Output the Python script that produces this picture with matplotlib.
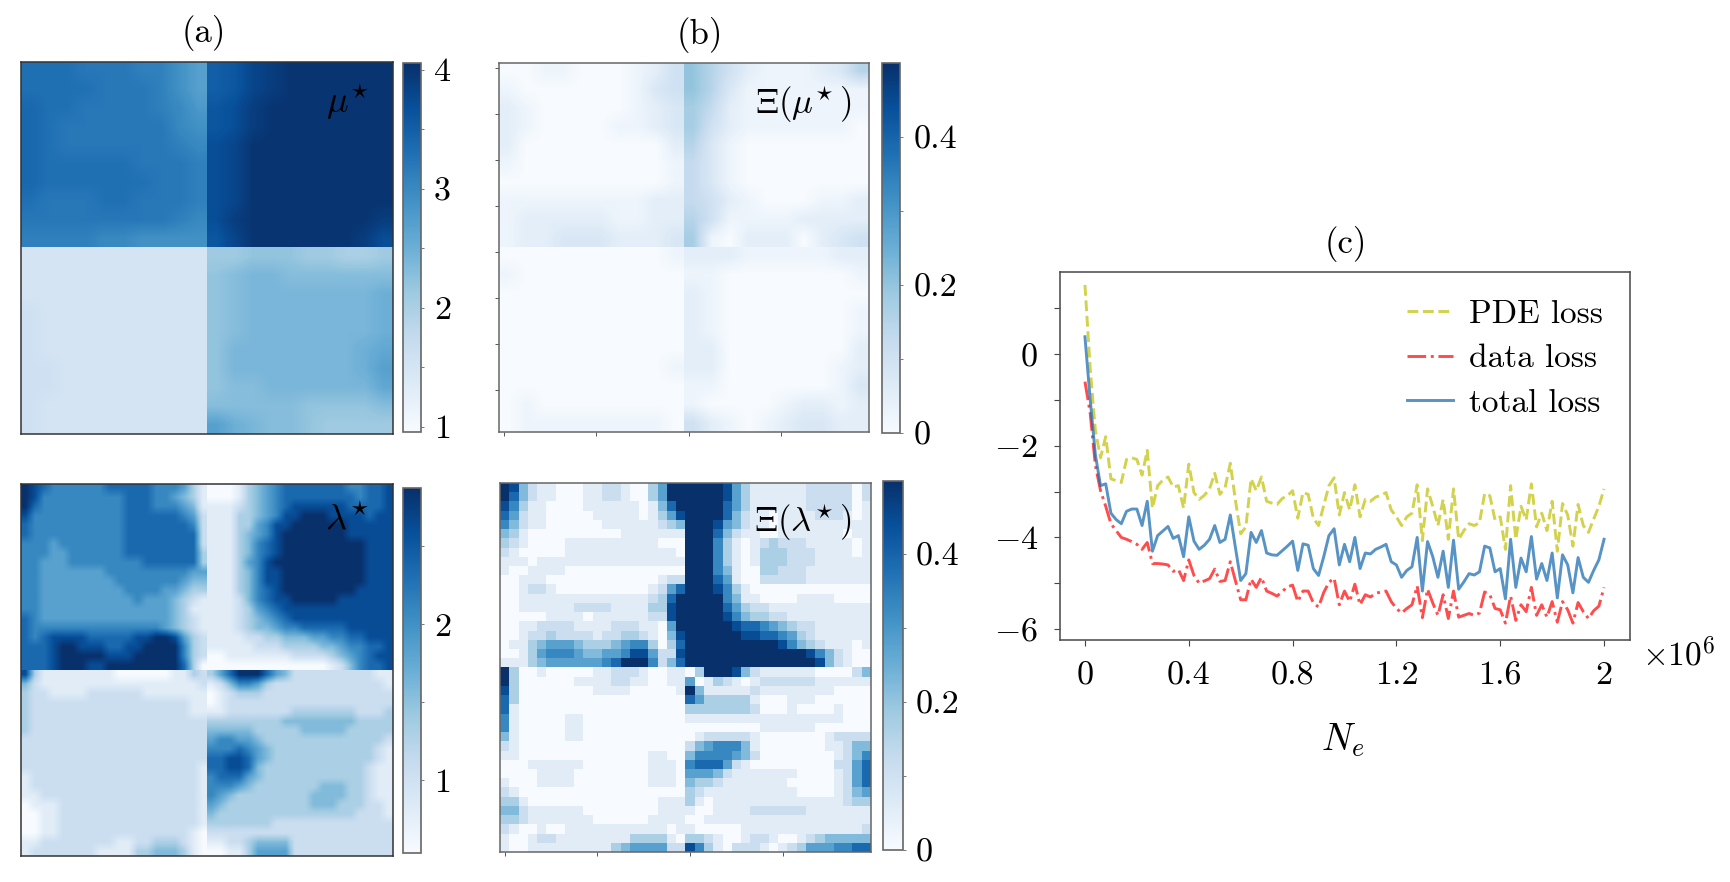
import numpy as np
import matplotlib
matplotlib.use('Agg')
import matplotlib.pyplot as plt

plt.rcParams['font.family'] = 'cmr10'
plt.rcParams['mathtext.fontset'] = 'cm'
plt.rcParams['axes.formatter.use_mathtext'] = True

W, H = 1730, 882

# values
mu_rows = [
    [3.3, 3.3, 3.3, 3.2, 3.2, 3.2, 3.1, 3.1, 2.9, 2.7, 3.5, 3.6, 3.8, 3.9, 4.0, 4.0, 4.0, 4.0, 4.0, 4.0],
    [3.3, 3.3, 3.3, 3.3, 3.2, 3.2, 3.2, 3.1, 2.9, 2.7, 3.5, 3.6, 3.8, 3.9, 4.0, 4.0, 4.0, 4.0, 4.0, 4.0],
    [3.4, 3.3, 3.3, 3.2, 3.2, 3.2, 3.2, 3.1, 3.0, 2.8, 3.6, 3.7, 3.9, 4.0, 4.0, 4.0, 4.0, 4.0, 4.0, 4.0],
    [3.4, 3.3, 3.2, 3.2, 3.2, 3.2, 3.2, 3.2, 3.0, 2.9, 3.6, 3.7, 3.9, 4.0, 4.0, 4.0, 4.0, 4.0, 4.0, 4.0],
    [3.4, 3.3, 3.2, 3.2, 3.2, 3.2, 3.2, 3.2, 3.1, 3.0, 3.7, 3.8, 4.0, 4.0, 4.0, 4.0, 4.0, 4.0, 4.0, 4.0],
    [3.4, 3.3, 3.3, 3.3, 3.3, 3.3, 3.2, 3.2, 3.2, 3.1, 3.7, 3.8, 4.0, 4.0, 4.0, 4.0, 4.0, 4.0, 4.0, 4.0],
    [3.4, 3.3, 3.3, 3.3, 3.3, 3.3, 3.3, 3.2, 3.2, 3.1, 3.7, 3.8, 4.0, 4.0, 4.0, 4.0, 4.0, 4.0, 4.0, 4.0],
    [3.3, 3.2, 3.2, 3.2, 3.3, 3.3, 3.2, 3.2, 3.2, 3.1, 3.7, 3.8, 4.0, 4.0, 4.0, 4.0, 4.0, 4.0, 4.0, 4.0],
    [3.2, 3.2, 3.2, 3.2, 3.2, 3.2, 3.2, 3.2, 3.1, 3.0, 3.7, 3.9, 4.0, 4.0, 4.0, 4.0, 4.0, 4.0, 4.0, 3.9],
    [3.1, 3.1, 3.1, 3.1, 3.0, 3.0, 2.9, 2.9, 2.9, 2.9, 3.6, 3.8, 4.0, 4.0, 4.0, 4.0, 4.0, 4.0, 3.9, 3.7],
    [1.5, 1.5, 1.5, 1.5, 1.5, 1.5, 1.5, 1.5, 1.5, 1.5, 2.1, 2.1, 2.2, 2.2, 2.2, 2.1, 2.1, 2.0, 2.0, 2.1],
    [1.5, 1.5, 1.5, 1.5, 1.5, 1.5, 1.5, 1.5, 1.5, 1.5, 2.2, 2.3, 2.4, 2.4, 2.3, 2.3, 2.3, 2.3, 2.3, 2.3],
    [1.5, 1.5, 1.5, 1.5, 1.5, 1.5, 1.5, 1.5, 1.5, 1.5, 2.2, 2.3, 2.4, 2.4, 2.4, 2.4, 2.4, 2.4, 2.4, 2.5],
    [1.6, 1.5, 1.5, 1.5, 1.5, 1.5, 1.5, 1.5, 1.5, 1.5, 2.2, 2.3, 2.4, 2.4, 2.4, 2.4, 2.4, 2.4, 2.4, 2.5],
    [1.6, 1.5, 1.5, 1.5, 1.5, 1.5, 1.5, 1.5, 1.5, 1.5, 2.2, 2.3, 2.4, 2.4, 2.4, 2.4, 2.4, 2.4, 2.4, 2.5],
    [1.6, 1.5, 1.5, 1.5, 1.5, 1.5, 1.5, 1.5, 1.5, 1.5, 2.2, 2.4, 2.4, 2.4, 2.4, 2.4, 2.4, 2.4, 2.5, 2.6],
    [1.6, 1.6, 1.5, 1.5, 1.5, 1.5, 1.5, 1.5, 1.5, 1.5, 2.2, 2.4, 2.4, 2.4, 2.4, 2.4, 2.4, 2.4, 2.5, 2.7],
    [1.6, 1.6, 1.5, 1.5, 1.5, 1.5, 1.5, 1.5, 1.5, 1.5, 2.2, 2.3, 2.3, 2.4, 2.4, 2.4, 2.4, 2.4, 2.4, 2.6],
    [1.6, 1.5, 1.5, 1.5, 1.5, 1.5, 1.5, 1.5, 1.5, 1.5, 2.3, 2.3, 2.3, 2.3, 2.3, 2.2, 2.2, 2.2, 2.2, 2.3],
    [1.6, 1.5, 1.5, 1.5, 1.5, 1.5, 1.5, 1.5, 1.5, 1.5, 2.7, 2.5, 2.4, 2.3, 2.3, 2.2, 2.1, 2.1, 2.1, 2.1],
]

# one digit per cell, 0 = low end of the colour bar, 9 = top end
xi_mu_rows = [
    "0011000124 8642111236",
    "1000000134 8631111111",
    "2100000123 7521111111",
    "2100001123 7421111110",
    "2000000002 6310000000",
    "1000000001 5310000000",
    "0000000001 5310000000",
    "1111111122 5421000112",
    "1222221122 6411112222",
    "1223332223 7102220234",
    "0000000001 2221111122",
    "1000000000 1100000001",
    "0000000000 2100000000",
    "0000000000 2100000001",
    "0000000000 2100000001",
    "0000000000 2200000002",
    "0000000001 2200000012",
    "0000000000 1100000013",
    "0100000000 1000012212",
    "0111111110 4210123322",
]

lam_rows = [
    "9876666667 7777666531 0001345677 7777766778",
    "9866666666 6777665431 0001345677 7777776778",
    "9766666666 6777666541 1112345678 8888877778",
    "8666666666 6777777652 1113345688 9998888788",
    "7666666666 6777777762 1113356889 9999988888",
    "7666666666 6777777772 1113456899 9999988888",
    "6665666666 6777777772 1113467899 9999999888",
    "6665566666 6777777773 1113467899 9999999888",
    "6655566666 6667777773 1113568999 9999999888",
    "6655555556 6666666655 1113468899 9999999888",
    "6655555555 6666666544 1113468899 9999999888",
    "6655555555 5666655433 1113467899 9999998888",
    "6655555555 5565554321 1112467889 9999888888",
    "6655555555 5555554311 1112356788 8888888888",
    "7655555555 5555554321 1112345678 8888888888",
    "7666666666 6666654321 1112344566 7777788888",
    "7678888777 7788998532 1111223344 4556677888",
    "7778998887 7889999632 1111122233 3344566778",
    "7778999998 8899999632 0011111112 2223456788",
    "7778999889 9999999730 0000000000 0001246778",
    "8311111111 0000001132 3579997542 2222222211",
    "4211111111 1111111112 1246653222 2222222221",
    "3221111222 2221111111 0123332222 2222222222",
    "3222222222 2222222211 0122222222 2222222222",
    "3222222222 2222222211 1122222223 3333332223",
    "3222222222 2222222222 3333333344 4444443333",
    "3222222222 2222222222 4444433333 4444433333",
    "2222222222 2222222222 5665543333 3333333332",
    "2222222222 2222222222 6667654333 3333333321",
    "2222222222 2222222222 7788754333 3333333321",
    "2222222222 2222222221 7788743333 3333333211",
    "1222222222 2222222221 6777543333 3333333211",
    "1222222222 2222222221 6665433333 3344433211",
    "1122222222 2222222221 6543333333 3444433211",
    "0111222222 2222222221 5433333333 3444333221",
    "0011222222 2222222221 4333333333 3333332221",
    "0011222222 2222222221 3333333222 2222222222",
    "0011222222 2222222210 2222222222 2222222222",
    "1122222222 1122333210 1122344442 2222222222",
    "1222222211 1133444310 0011355552 2222222222",
]

xi_lam_rows = [
    "9842110001 1221003599 9999853111 1112222202",
    "9742110001 1221003599 9999853111 1112222202",
    "8631100001 1111101479 9999753111 1112222201",
    "7521100000 1111101358 9999742110 1111222101",
    "6421100000 0111111234 9998542110 1111111111",
    "4310000000 0001111111 9997421100 1111111011",
    "3210000111 1111111000 9996310123 2221111101",
    "2100000111 1111111110 9996310133 3222111101",
    "1110111111 1111111111 9996310133 3222111111",
    "1001111000 0000000000 9996410033 2221111111",
    "0011100000 0000000122 9997510022 2221111111",
    "0012210000 0000001257 9998631000 0000000000",
    "0011111111 1111112379 9999641100 0011110000",
    "0011111122 2211113389 9999753221 1111111111",
    "0000011110 1111112289 9999864332 2111111111",
    "0011222211 1122211059 9999987765 4322111111",
    "0012232222 1223321048 9999998877 6532111111",
    "0113455543 3345663037 9999999999 8643211101",
    "0013566654 4556885228 9999999999 9998642100",
    "1113455555 5679996247 9999999999 9999842100",
    "9300100000 1122210011 0399984211 1111000024",
    "9300000011 1122110011 5013210122 2222111111",
    "8300000000 1111000001 9411111211 1111110000",
    "7300000000 0000000000 7533333100 0111000000",
    "7100000000 0000000000 3333333200 0100001000",
    "6100000110 0000000000 1111111111 1111111000",
    "6100000110 0000000000 0000000011 1111000000",
    "4100000110 0000000000 0122222100 0000012222",
    "2100000000 0000000000 2456664100 0000011244",
    "1100000000 0000001100 4666654200 0000001246",
    "0001111110 0000001110 6777521000 0000002257",
    "0000111100 0000001110 5554211111 1100001257",
    "1000111100 0000001110 4332111111 1000001257",
    "2100000000 0000000000 3211111111 1100001245",
    "3310000000 0000000111 3101111111 1111111233",
    "4421111110 0000000111 1001111222 2221111111",
    "3321111111 0000001111 0011111111 1111111111",
    "2100100111 1111111101 1000001111 1111111112",
    "1001221111 1111333310 3321001221 0012344444",
    "1001111111 1134555522 8631022210 1235556677",
]

# loss curves, one point every 0.02e6 samples
total_loss = [0.38, -0.98, -2.19, -2.87, -2.83, -3.47, -3.61, -3.70, -3.43, -3.38,
              -3.38, -3.74, -3.21, -4.30, -3.96, -3.86, -3.76, -4.02, -3.96, -4.42,
              -3.55, -4.08, -4.26, -4.17, -4.04, -3.74, -4.11, -4.04, -3.51, -4.23,
              -4.94, -4.79, -3.89, -4.11, -3.85, -4.34, -4.38, -4.39, -4.29, -4.19,
              -4.08, -4.72, -4.14, -4.17, -4.68, -4.83, -4.42, -3.96, -3.81, -4.60,
              -4.15, -4.53, -4.00, -4.68, -4.34, -4.36, -4.26, -4.21, -4.15, -4.53,
              -4.60, -4.87, -4.72, -4.64, -4.00, -5.17, -4.09, -4.42, -4.87, -4.30,
              -5.09, -4.06, -5.13, -4.97, -4.79, -4.82, -4.75, -4.19, -4.23, -4.75,
              -4.68, -5.34, -4.04, -5.09, -4.45, -4.75, -3.98, -4.91, -4.57, -4.94,
              -4.34, -5.32, -4.38, -4.60, -5.21, -4.44, -4.87, -4.98, -4.72, -4.49,
              -4.04]
pde_loss = [1.51, -0.30, -1.66, -2.26, -1.80, -2.72, -2.76, -2.80, -2.30, -2.26,
            -2.30, -2.64, -2.10, -3.36, -2.87, -2.75, -2.68, -2.90, -2.87, -3.36,
            -2.40, -3.02, -3.17, -3.08, -2.94, -2.60, -3.06, -2.91, -2.38, -3.20,
            -3.92, -3.77, -2.72, -2.98, -2.68, -3.21, -3.25, -3.28, -3.15, -3.09,
            -2.98, -3.58, -3.02, -3.06, -3.58, -3.74, -3.30, -2.87, -2.70, -3.51,
            -3.02, -3.40, -2.85, -3.55, -3.17, -3.21, -3.12, -3.08, -3.02, -3.40,
            -3.55, -3.74, -3.55, -3.47, -2.85, -4.07, -2.94, -3.32, -3.74, -3.17,
            -4.04, -2.94, -4.04, -3.85, -3.70, -3.74, -3.68, -3.04, -3.09, -3.62,
            -3.55, -4.26, -2.87, -4.04, -3.32, -3.62, -2.83, -3.77, -3.47, -3.85,
            -3.21, -4.30, -3.26, -3.51, -4.19, -3.28, -3.74, -3.89, -3.60, -3.32,
            -2.94]
data_loss = [-0.60, -1.28, -2.42, -2.98, -3.32, -3.70, -3.85, -4.00, -4.04, -4.09,
             -4.15, -4.26, -4.11, -4.57, -4.57, -4.58, -4.60, -4.74, -4.70, -4.94,
             -4.49, -4.83, -5.00, -4.95, -4.90, -4.69, -4.96, -4.94, -4.53, -4.95,
             -5.36, -5.36, -4.91, -5.09, -4.87, -5.17, -5.22, -5.28, -5.18, -5.08,
             -5.04, -5.40, -5.17, -5.17, -5.43, -5.52, -5.20, -4.98, -4.89, -5.47,
             -5.17, -5.40, -5.02, -5.47, -5.25, -5.30, -5.22, -5.19, -5.17, -5.40,
             -5.55, -5.65, -5.55, -5.47, -5.06, -5.75, -5.13, -5.43, -5.70, -5.25,
             -5.77, -5.17, -5.74, -5.70, -5.66, -5.70, -5.65, -5.19, -5.25, -5.55,
             -5.58, -5.87, -5.28, -5.81, -5.47, -5.62, -5.09, -5.70, -5.47, -5.74,
             -5.40, -5.85, -5.40, -5.58, -5.87, -5.42, -5.62, -5.77, -5.60, -5.50,
             -5.09]
samples = np.arange(101) * 0.02

lam_ticks = [1, 2]
mu_ticks = [1, 2, 3, 4]
xi_ticks = [0, 0.2, 0.4]
loss_ticks = [-6, -4, -2, 0]
loss_tick_labels = ['$-6$', '$-4$', '$-2$', '$0$']
sample_ticks = [0, 0.4, 0.8, 1.2, 1.6, 2]
sample_tick_labels = ['0', '0.4', '0.8', '1.2', '1.6', '2']


def digits(rows):
    return np.array([[int(ch) for ch in r.replace(' ', '')] for r in rows], dtype=float)


def px_axes(x0, y0, x1, y1):
    # pixel box of the target picture -> figure fractions
    return fig.add_axes([x0 / W, 1 - y1 / H, (x1 - x0) / W, (y1 - y0) / H])


def heat(box, cbox, grid, vmin, vmax, ticks, minor, labels, smooth=True, xt=False, yt=False):
    ax = px_axes(*box)
    kw = dict(cmap='Blues', vmin=vmin, vmax=vmax, aspect='auto')
    if smooth:
        # the jump between the quadrants stays sharp, so each one is drawn on its own
        n = grid.shape[0] // 2
        for i, (y0, y1) in enumerate([(-0.5, 19.5), (19.5, 39.5)]):
            for j, (x0, x1) in enumerate([(-0.5, 19.5), (19.5, 39.5)]):
                im = ax.imshow(grid[i * n:(i + 1) * n, j * n:(j + 1) * n], extent=(x0, x1, y1, y0),
                               interpolation='bilinear', **kw)
    else:
        im = ax.imshow(grid, interpolation='nearest', **kw)
    ax.set_xlim(-0.5, 39.5)
    ax.set_ylim(39.5, -0.5)
    ax.set_xticks([0, 10, 20, 30] if xt else [])
    ax.set_yticks(np.arange(0, 40, 5) if yt else [])
    ax.tick_params(length=3, width=0.7, color='#555555', labelleft=False, labelbottom=False)
    for s in ax.spines.values():
        s.set_color('#666666' if xt else '#333333')
        s.set_linewidth(1.1)
    cax = px_axes(*cbox)
    cb = fig.colorbar(im, cax=cax)
    cb.set_ticks(ticks)
    cb.set_ticklabels(labels)
    cb.ax.set_yticks(minor, minor=True)
    cb.ax.tick_params(which='both', length=2.5, width=0.7, color='#777777', labelsize=24.5, pad=7)
    cb.outline.set_edgecolor('#666666')
    cb.outline.set_linewidth(1.2)
    return ax


fig = plt.figure(figsize=(W / 100, H / 100), dpi=100)

heat((20.7, 61.7, 392.7, 434), (403, 62.7, 420.7, 431.7), np.array(mu_rows),
     0.96, 4.06, mu_ticks, [1.5, 2.5, 3.5], [str(t) for t in mu_ticks])
heat((20.7, 484, 392.7, 856), (403, 488.3, 420.7, 853.3),
     0.53 + digits(lam_rows) / 9 * (2.87 - 0.53),
     0.53, 2.87, lam_ticks, [1.5, 2.5], [str(t) for t in lam_ticks])
heat((499.3, 63.3, 869.3, 431.7), (881.7, 63.3, 900, 433.3), digits(xi_mu_rows) * 0.025,
     0, 0.5, xi_ticks, [0.1, 0.3], ['0', '0.2', '0.4'], xt=True, yt=True)
heat((500, 483.3, 870.7, 851.7), (883, 480.5, 902.7, 850), digits(xi_lam_rows) / 9 * 0.5,
     0, 0.5, xi_ticks, [0.1, 0.3], ['0', '0.2', '0.4'], smooth=False, xt=True)

# loss panel
ax = px_axes(1060.3, 271.7, 1630, 640.3)
ax.plot(samples, pde_loss, color='y', ls='--', lw=2.1, alpha=0.7, label='PDE loss')
ax.plot(samples, data_loss, color='r', ls='-.', lw=2.1, alpha=0.7, label='data loss')
ax.plot(samples, total_loss, color='#1f6fb0', ls='-', lw=2.1, alpha=0.75, label='total loss')
ax.set_xlim(-0.095, 2.1)
ax.set_ylim(-6.245, 1.80)
ax.set_xticks(sample_ticks)
ax.set_xticklabels(sample_tick_labels)
ax.set_yticks(loss_ticks)
ax.set_yticklabels(loss_tick_labels)
ax.set_yticks([-5, -3, -1, 1], minor=True)
ax.tick_params(which='both', length=4, width=0.8, color='#444444')
ax.tick_params(axis='x', labelsize=24.5, pad=11)
ax.tick_params(axis='y', labelsize=24.5, pad=12)
for s in ax.spines.values():
    s.set_color('#555555')
    s.set_linewidth(1.2)
ax.legend(loc='upper left', frameon=False, fontsize=24, handlelength=1.4,
          handletextpad=0.48, labelspacing=0.456, borderaxespad=0, borderpad=0,
          bbox_to_anchor=(0.608, 0.925))


def put(x, y, s, size=25):
    fig.text(x / W, 1 - y / H, s, ha='center', va='center', fontsize=size)


put(204, 33, '(a)')
put(700, 35, '(b)')
put(1346, 244, '(c)')
put(348, 102, r'$\mu^{\!\star}$', 26)
put(347, 520, r'$\lambda^{\!\star}$', 26)
put(803, 105, r'$\Xi(\mu^{\!\star})$', 25)
put(803, 523, r'$\Xi(\lambda^{\!\star})$', 25)
put(1679, 654, r'$\times 10^{6}$', 24)
put(1343, 740, r'$N_e$', 27)

fig.savefig('out.png', dpi=100)
